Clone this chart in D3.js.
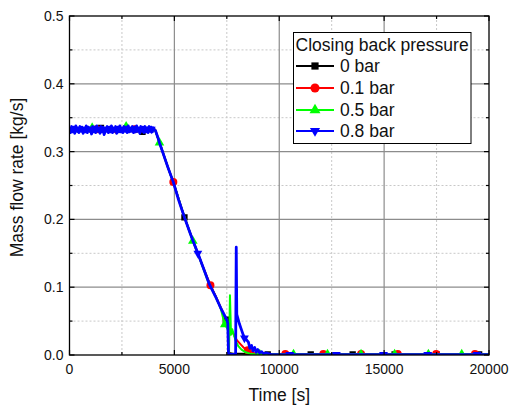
<!DOCTYPE html>
<html>
<head>
<meta charset="utf-8">
<script src="https://cdn.jsdelivr.net/npm/d3@7"></script>
<style>
  html, body { margin: 0; padding: 0; background: #ffffff; }
  svg { display: block; font-family: "Liberation Sans", Arial, sans-serif; }
</style>
</head>
<body>
<svg id="chart" width="509" height="408"></svg>
<script>
// ---- axis ticks and legend entries ----
const xMajorTicks = [0, 5000, 10000, 15000, 20000];
const xMinorTicks = [2500, 7500, 12500, 17500];
const yMajorTicks = [0.0, 0.1, 0.2, 0.3, 0.4, 0.5];
const yMinorTicks = [0.05, 0.15, 0.25, 0.35, 0.45];
const legendTitle = "Closing back pressure";
const seriesLabels = ["0 bar", "0.1 bar", "0.5 bar", "0.8 bar"];

// ---- mass flow rate [kg/s] vs time [s] for each closing back pressure ----
const flow0bar = [
  [0,0.333],[200,0.330],[400,0.335],[600,0.331],[800,0.334],[1000,0.329],[1200,0.335],
  [1400,0.331],[1500,0.335],[1600,0.330],[1800,0.334],[2000,0.329],[2200,0.335],[2400,0.331],
  [2600,0.334],[2800,0.330],[3000,0.335],[3200,0.329],[3400,0.333],[3480,0.329],[3600,0.334],
  [3800,0.330],[4000,0.333],[4080,0.332],
  [4300,0.313],[4700,0.276],[5000,0.250],[5480,0.203],[5900,0.168],[6400,0.127],
  [6700,0.103],[7000,0.084],[7200,0.070],[7452,0.052],[7560,0.045],[7610,0.003],
  [7800,0.002],[8200,0.002],[9000,0.001],[9450,0.001],[11500,0.001],[13500,0.001],
  [15500,0.001],[17500,0.001],[19530,0.001],[20000,0.001]
];
const flow01bar = [
  [0,0.332],[200,0.335],[400,0.330],[600,0.334],[800,0.329],[1000,0.335],[1200,0.331],
  [1290,0.333],[1400,0.329],[1600,0.335],[1800,0.330],[2000,0.334],[2200,0.328],[2400,0.335],
  [2600,0.331],[2800,0.334],[3000,0.330],[3100,0.333],[3200,0.335],[3400,0.330],[3600,0.334],
  [3800,0.331],[4000,0.334],[4090,0.332],
  [4300,0.312],[4600,0.285],[4950,0.255],[5300,0.220],[5700,0.184],[6100,0.151],
  [6400,0.127],[6720,0.103],[7000,0.085],[7300,0.064],[7500,0.051],[7650,0.040],
  [7800,0.032],[7900,0.026],[8000,0.021],[8150,0.016],[8300,0.011],[8500,0.007],
  [8650,0.005],[8800,0.003],[9000,0.002],[9300,0.0015],[10290,0.0015],[12100,0.0015],
  [13900,0.0015],[15650,0.0015],[17480,0.0015],[19330,0.0015],[20000,0.0015]
];
const flow05bar = [
  [0,0.331],[200,0.334],[400,0.329],[600,0.335],[800,0.330],[1000,0.334],[1080,0.335],
  [1200,0.330],[1400,0.334],[1600,0.329],[1800,0.335],[2000,0.331],[2200,0.334],[2400,0.329],
  [2600,0.335],[2700,0.336],[2800,0.331],[3000,0.334],[3200,0.330],[3400,0.335],[3600,0.329],
  [3800,0.334],[4000,0.331],[4080,0.332],
  [4290,0.313],[4600,0.285],[5000,0.250],[5400,0.211],[5880,0.168],[6200,0.143],
  [6600,0.109],[7000,0.084],[7200,0.070],[7400,0.045],[7550,0.038],[7605,0.003],
  [7650,0.088],[7700,0.030],[7760,0.038],[7850,0.028],[7950,0.019],[8050,0.013],
  [8200,0.008],[8400,0.004],[8600,0.002],[8800,0.001],[9070,0.001],[10680,0.001],
  [12300,0.001],[13900,0.001],[15500,0.001],[17110,0.001],[18700,0.001],[20000,0.001]
];
const flow08bar = [
  [0,0.335],[50,0.328],[100,0.337],[150,0.329],[200,0.336],[250,0.327],[300,0.338],
  [350,0.330],[400,0.335],[450,0.328],[500,0.337],[550,0.330],[600,0.336],[650,0.327],
  [700,0.335],[750,0.329],[800,0.338],[850,0.328],[900,0.336],[950,0.330],[1000,0.335],
  [1050,0.326],[1100,0.337],[1150,0.329],[1200,0.336],[1250,0.328],[1300,0.338],[1350,0.330],
  [1400,0.335],[1450,0.327],[1500,0.337],[1550,0.329],[1600,0.336],[1650,0.325],[1700,0.335],
  [1750,0.330],[1800,0.337],[1850,0.328],[1900,0.336],[1950,0.329],[2000,0.338],[2050,0.328],
  [2100,0.335],[2150,0.330],[2200,0.337],[2250,0.327],[2300,0.336],[2350,0.329],[2400,0.338],
  [2450,0.329],[2500,0.335],[2550,0.328],[2600,0.337],[2650,0.330],[2700,0.336],[2750,0.328],
  [2800,0.338],[2850,0.329],[2900,0.335],[2950,0.330],[3000,0.337],[3050,0.328],[3100,0.336],
  [3150,0.329],[3200,0.338],[3250,0.330],[3300,0.335],[3350,0.327],[3400,0.337],[3450,0.330],
  [3500,0.336],[3550,0.328],[3600,0.337],[3650,0.329],[3700,0.335],[3750,0.328],[3800,0.337],
  [3850,0.330],[3900,0.336],[3950,0.329],[4000,0.335],[4050,0.332],
  [4100,0.331],[4200,0.322],[4290,0.313],[4500,0.294],[4700,0.276],[4950,0.255],
  [5200,0.229],[5480,0.203],[5700,0.184],[5880,0.169],[6120,0.150],[6400,0.127],
  [6672,0.104],[6950,0.087],[7200,0.070],[7500,0.052],[7545,0.047],[7580,0.001],
  [7920,0.001],[7950,0.159],[7975,0.060],[8100,0.046],[8200,0.037],[8290,0.029],
  [8340,0.025],[8420,0.023],[8530,0.019],[8600,0.010],[8680,0.014],[8750,0.006],
  [8830,0.011],[8900,0.004],[8980,0.008],[9060,0.003],[9150,0.005],[9250,0.002],
  [9400,0.003],[9600,0.001],[9800,0.0005],[20000,0.0005]
];

// ---- symbol positions along each curve ----
const marks0bar = [[1500,0.335],[3480,0.329],[5480,0.203],[7452,0.052],[9450,0.001],
  [11500,0.001],[13500,0.001],[15500,0.001],[17500,0.001],[19530,0.001]];
const marks01bar = [[1290,0.333],[3100,0.333],[4950,0.255],[6720,0.103],[8500,0.007],
  [10290,0.0015],[12100,0.0015],[13900,0.0015],[15650,0.0015],[17480,0.0015],[19330,0.0015]];
const marks05bar = [[1080,0.335],[2700,0.337],[4290,0.313],[5880,0.168],[7400,0.045],
  [9070,0.001],[10680,0.001],[12300,0.001],[13900,0.001],[15500,0.001],[17110,0.001],[18700,0.001]];
const marks08bar = [[1670,0.331],[3900,0.333],[6120,0.150],[8340,0.025],[10500,0.0005],
  [12720,0.0005],[14970,0.0005],[17080,0.0005],[19430,0.0005]];

// ---- layout ----
const plot = { left: 69.5, right: 489, top: 16, bottom: 355 };
const svg = d3.select("#chart");

const x = d3.scaleLinear().domain([0, 20000]).range([plot.left, plot.right]);
const y = d3.scaleLinear().domain([0, 0.5]).range([plot.bottom, plot.top]);

svg.append("rect").attr("width", 509).attr("height", 408).attr("fill", "#ffffff");

svg.append("defs").append("clipPath").attr("id", "plotClip")
  .append("rect")
  .attr("x", plot.left).attr("y", plot.top)
  .attr("width", plot.right - plot.left).attr("height", plot.bottom - plot.top);

// ---- grid ----
const grid = svg.append("g");
grid.selectAll(".gxm").data(xMinorTicks).join("line")
  .attr("x1", d => x(d)).attr("x2", d => x(d))
  .attr("y1", plot.top).attr("y2", plot.bottom)
  .attr("stroke", "#c8c8c8").attr("stroke-width", 1).attr("stroke-dasharray", "2,2");
grid.selectAll(".gym").data(yMinorTicks).join("line")
  .attr("x1", plot.left).attr("x2", plot.right)
  .attr("y1", d => y(d)).attr("y2", d => y(d))
  .attr("stroke", "#c8c8c8").attr("stroke-width", 1).attr("stroke-dasharray", "2,2");
grid.selectAll(".gxM").data(xMajorTicks.slice(1, -1)).join("line")
  .attr("x1", d => x(d)).attr("x2", d => x(d))
  .attr("y1", plot.top).attr("y2", plot.bottom)
  .attr("stroke", "#8c8c8c").attr("stroke-width", 1.2);
grid.selectAll(".gyM").data(yMajorTicks.slice(1, -1)).join("line")
  .attr("x1", plot.left).attr("x2", plot.right)
  .attr("y1", d => y(d)).attr("y2", d => y(d))
  .attr("stroke", "#8c8c8c").attr("stroke-width", 1.2);

// ---- series ----
const series = [
  { data: flow0bar,  marks: marks0bar,  color: "#000000", symbol: d3.symbolSquare,   size: 40, rot: 0,   width: 2 },
  { data: flow01bar, marks: marks01bar, color: "#ff0000", symbol: d3.symbolCircle,   size: 50, rot: 0,   width: 2 },
  { data: flow05bar, marks: marks05bar, color: "#00ff00", symbol: d3.symbolTriangle, size: 40, rot: 0,   width: 2 },
  { data: flow08bar, marks: marks08bar, color: "#0000ff", symbol: d3.symbolTriangle, size: 34, rot: 180, width: 2.8 }
];

const line = d3.line().x(d => x(d[0])).y(d => y(d[1]));
const dataLayer = svg.append("g").attr("clip-path", "url(#plotClip)");

series.forEach(s => {
  const g = dataLayer.append("g");
  g.append("path").datum(s.data)
    .attr("d", line)
    .attr("fill", "none")
    .attr("stroke", s.color)
    .attr("stroke-width", s.width)
    .attr("stroke-linejoin", "round");
  g.selectAll("path.mk").data(s.marks).join("path")
    .attr("class", "mk")
    .attr("d", d3.symbol().type(s.symbol).size(s.size))
    .attr("transform", d => `translate(${x(d[0])},${y(d[1])}) rotate(${s.rot})`)
    .attr("fill", s.color);
});

// ---- frame and inward ticks ----
const axes = svg.append("g").attr("stroke", "#000000");
axes.append("rect")
  .attr("x", plot.left).attr("y", plot.top)
  .attr("width", plot.right - plot.left).attr("height", plot.bottom - plot.top)
  .attr("fill", "none").attr("stroke-width", 1.3);

function xTickMarks(vals, len) {
  axes.selectAll(null).data(vals).join("line")
    .attr("x1", d => x(d)).attr("x2", d => x(d))
    .attr("y1", plot.bottom).attr("y2", plot.bottom - len).attr("stroke-width", 1.2);
  axes.selectAll(null).data(vals).join("line")
    .attr("x1", d => x(d)).attr("x2", d => x(d))
    .attr("y1", plot.top).attr("y2", plot.top + len).attr("stroke-width", 1.2);
}
function yTickMarks(vals, len) {
  axes.selectAll(null).data(vals).join("line")
    .attr("y1", d => y(d)).attr("y2", d => y(d))
    .attr("x1", plot.left).attr("x2", plot.left + len).attr("stroke-width", 1.2);
  axes.selectAll(null).data(vals).join("line")
    .attr("y1", d => y(d)).attr("y2", d => y(d))
    .attr("x1", plot.right).attr("x2", plot.right - len).attr("stroke-width", 1.2);
}
xTickMarks(xMajorTicks, 5);
xTickMarks(xMinorTicks, 3);
yTickMarks(yMajorTicks, 5);
yTickMarks(yMinorTicks, 3);

// ---- tick labels ----
svg.append("g").selectAll("text").data(xMajorTicks).join("text")
  .attr("x", d => x(d)).attr("y", 374)
  .attr("text-anchor", "middle")
  .attr("font-size", 14).attr("fill", "#111")
  .text(d => d3.format("d")(d));

svg.append("g").selectAll("text").data(yMajorTicks).join("text")
  .attr("x", 63.5).attr("y", d => y(d) + 5)
  .attr("text-anchor", "end")
  .attr("font-size", 14).attr("fill", "#111")
  .text(d => d3.format(".1f")(d));

// ---- axis titles ----
svg.append("text")
  .attr("x", (plot.left + plot.right) / 2).attr("y", 401)
  .attr("text-anchor", "middle").attr("font-size", 17.5).attr("fill", "#111")
  .text("Time [s]");

svg.append("text")
  .attr("transform", "translate(23,177.5) rotate(-90)")
  .attr("text-anchor", "middle").attr("font-size", 17.5).attr("fill", "#111")
  .text("Mass flow rate [kg/s]");

// ---- legend ----
const legend = svg.append("g");
legend.append("rect")
  .attr("x", 293.5).attr("y", 32.5).attr("width", 177.5).attr("height", 111)
  .attr("fill", "#ffffff").attr("stroke", "#000000").attr("stroke-width", 1);
legend.append("text")
  .attr("x", 295.5).attr("y", 51)
  .attr("font-size", 17.5).attr("fill", "#111")
  .text(legendTitle);

const legendRows = [66, 88, 110, 131];
series.forEach((s, i) => {
  const ly = legendRows[i];
  legend.append("line")
    .attr("x1", 296).attr("x2", 334).attr("y1", ly).attr("y2", ly)
    .attr("stroke", s.color).attr("stroke-width", 2);
  legend.append("path")
    .attr("d", d3.symbol().type(s.symbol).size(s.size * 1.3))
    .attr("transform", `translate(315,${ly}) rotate(${s.rot})`)
    .attr("fill", s.color);
  legend.append("text")
    .attr("x", 340).attr("y", ly + 6)
    .attr("font-size", 17.5).attr("fill", "#111")
    .text(seriesLabels[i]);
});
</script>
</body>
</html>
